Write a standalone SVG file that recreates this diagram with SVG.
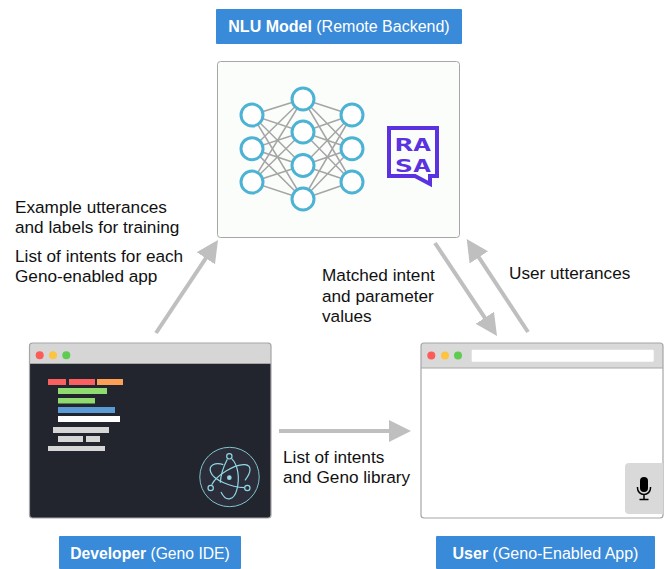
<svg xmlns="http://www.w3.org/2000/svg" width="665" height="569" viewBox="0 0 665 569">
<style>
text{font-family:"Liberation Sans",Arial,sans-serif;font-size:17.2px;fill:#111}
.lab{fill:#398ad9}
.lt{fill:#fff;text-anchor:middle;font-size:16px}
.b{font-weight:700}
.arrow{stroke:#bfbfbf;stroke-width:4;fill:none;marker-end:url(#head)}
.win{fill:none;stroke:#a6a6a6;stroke-width:1.2}
.n{fill:#fff;stroke:#4db3d4;stroke-width:3}
.e{fill:none;stroke:#a5a5a5;stroke-width:1.5}
.orb{fill:none;stroke:#8fd8e4;stroke-width:3.6}
.rasa{font-family:"DejaVu Sans Mono",monospace;font-size:17.8px;font-weight:700;fill:#5a32e0;text-anchor:middle}
</style>
<defs>
<marker id="head" markerUnits="userSpaceOnUse" markerWidth="26" markerHeight="26" refX="2" refY="13" orient="auto"><path d="M0,2 L22,13 L0,24 Z" fill="#bfbfbf"/></marker>
</defs>
<rect width="665" height="569" fill="#fff"/>
<g id="connectors">
<line class="arrow" x1="156" y1="333" x2="206.9" y2="256.6"/>
<line class="arrow" x1="435" y1="243" x2="485.9" y2="319.4"/>
<line class="arrow" x1="528" y1="332" x2="477.7" y2="255.7"/>
<line class="arrow" x1="279" y1="431" x2="391" y2="431"/>
</g>
<g id="nlu-label">
<rect class="lab" x="216" y="9" width="246" height="35" rx="1"/>
<text class="lt" x="339" y="32"><tspan class="b">NLU Model</tspan> (Remote Backend)</text>
</g>
<g id="nlu-model">
<rect x="217.500" y="61.500" width="242" height="176" rx="3" fill="#fbfdfb" stroke="#a6a6a6" stroke-width="1"/>
<path class="e" d="M252,115L303,99M252,115L303,132M252,115L303,165.500M252,115L303,199M252,148.700L303,99M252,148.700L303,132M252,148.700L303,165.500M252,148.700L303,199M252,182L303,99M252,182L303,132M252,182L303,165.500M252,182L303,199M303,99L352,115M303,99L352,148.700M303,99L352,182M303,132L352,115M303,132L352,148.700M303,132L352,182M303,165.500L352,115M303,165.500L352,148.700M303,165.500L352,182M303,199L352,115M303,199L352,148.700M303,199L352,182"/>
<circle class="n" cx="252" cy="115" r="11"/><circle class="n" cx="252" cy="148.700" r="11"/><circle class="n" cx="252" cy="182" r="11"/>
<circle class="n" cx="303" cy="99" r="11"/><circle class="n" cx="303" cy="132" r="11"/><circle class="n" cx="303" cy="165.500" r="11"/><circle class="n" cx="303" cy="199" r="11"/>
<circle class="n" cx="352" cy="115" r="11"/><circle class="n" cx="352" cy="148.700" r="11"/><circle class="n" cx="352" cy="182" r="11"/>
<path d="M389,128H437V176H430V184L415,176H389Z" fill="none" stroke="#5a32e0" stroke-width="4"/>
<text class="rasa" transform="translate(413,0) scale(1.7,1)"><tspan x="0" y="151">RA</tspan><tspan x="0" y="172">SA</tspan></text>
</g>
<g id="developer">
<rect x="29.500" y="343" width="241.500" height="175" rx="3" fill="#22252d"/>
<path d="M29.500,363V346a3,3 0 0 1 3,-3H268a3,3 0 0 1 3,3V363Z" fill="#d6d6d6"/>
<rect class="win" x="29.500" y="343" width="241.500" height="175" rx="3"/>
<line x1="29.500" y1="363.500" x2="271" y2="363.500" stroke="#a6a6a6"/>
<circle cx="39.700" cy="355.300" r="4" fill="#fc5b57"/><circle cx="53" cy="355.300" r="4" fill="#fcc440"/><circle cx="66.300" cy="355.300" r="4" fill="#5fcb51"/>
<rect x="48" y="379" width="18" height="6" fill="#fc5f5f"/><rect x="69" y="379" width="26" height="6" fill="#fc5f5f"/><rect x="97" y="379" width="26" height="6" fill="#fda055"/>
<rect x="58" y="388" width="49" height="6" fill="#8fdb70"/><rect x="58" y="398" width="37" height="5.500" fill="#8fdb70"/>
<rect x="58" y="407" width="57" height="6" fill="#5a9bd5"/><rect x="58" y="416" width="62" height="6" fill="#fff"/>
<rect x="53" y="427" width="56" height="6" fill="#d6d6d6"/><rect x="58" y="436" width="25" height="6" fill="#d6d6d6"/><rect x="86" y="436" width="14" height="6" fill="#d6d6d6"/><rect x="48" y="446" width="57" height="5" fill="#d6d6d6"/>
<circle cx="229.500" cy="477" r="29.700" fill="#2b2e3a" stroke="#7fc3cc" stroke-width="1"/>
<g transform="translate(195,442) scale(.3333)">
<path class="orb" d="M85,68C60,60 40,70 47,90C55,115 110,135 148,137"/>
<path class="orb" d="M50,128C65,100 120,65 150,68C170,70 170,90 150,115"/>
<path class="orb" d="M110,50C130,70 135,110 125,145C118,170 95,185 78,150"/>
<path class="orb" d="M97,52C85,75 77,100 76,122"/>
<circle class="orb" cx="103" cy="43" r="8"/><circle class="orb" cx="47" cy="138" r="8"/><circle class="orb" cx="157" cy="138" r="8"/>
<circle cx="103" cy="107" r="7" fill="#8fd8e4"/>
</g>
</g>
<g id="developer-label">
<rect class="lab" x="59" y="536" width="182" height="33" rx="1"/>
<text class="lt" x="150" y="559" style="font-size:15.7px"><tspan class="b">Developer</tspan> (Geno IDE)</text>
</g>
<g id="user-app">
<rect x="421" y="343" width="242" height="175" rx="3" fill="#fff"/>
<path d="M421,368V346a3,3 0 0 1 3,-3H660a3,3 0 0 1 3,3V368Z" fill="#d9d9d9"/>
<rect class="win" x="421" y="343" width="242" height="175" rx="3"/>
<line x1="421" y1="368" x2="663" y2="368" stroke="#a6a6a6" stroke-width="1"/>
<circle cx="431.300" cy="355.500" r="4" fill="#fc5b57"/><circle cx="445" cy="355.500" r="4" fill="#fcc440"/><circle cx="458" cy="355.500" r="4" fill="#5fcb51"/>
<rect x="471.700" y="349.700" width="182" height="12" rx="1" fill="#fff"/>
<path d="M663,463H629a4,4 0 0 0 -4,4V510a4,4 0 0 0 4,4H663Z" fill="#d9d9d9"/>
<rect x="640" y="477" width="8" height="15" rx="4" fill="#000"/>
<path d="M637.500,487V488a6.500,6.500 0 0 0 13,0V487M644,495V499M639.500,499.500H648.500" fill="none" stroke="#000" stroke-width="1.500"/>
</g>
<g id="user-label">
<rect class="lab" x="436" y="536" width="219" height="33" rx="1"/>
<text class="lt" x="545.500" y="559"><tspan class="b">User</tspan> (Geno-Enabled App)</text>
</g>
<g id="edge-labels">
<text x="15" y="213">Example utterances</text>
<text x="15" y="233">and labels for training</text>
<text x="15" y="262">List of intents for each</text>
<text x="15" y="282">Geno-enabled app</text>
<text x="322" y="281">Matched intent</text>
<text x="322" y="302">and parameter</text>
<text x="322" y="322">values</text>
<text x="509" y="279">User utterances</text>
<text x="283" y="463">List of intents</text>
<text x="283" y="483">and Geno library</text>
</g>
</svg>
